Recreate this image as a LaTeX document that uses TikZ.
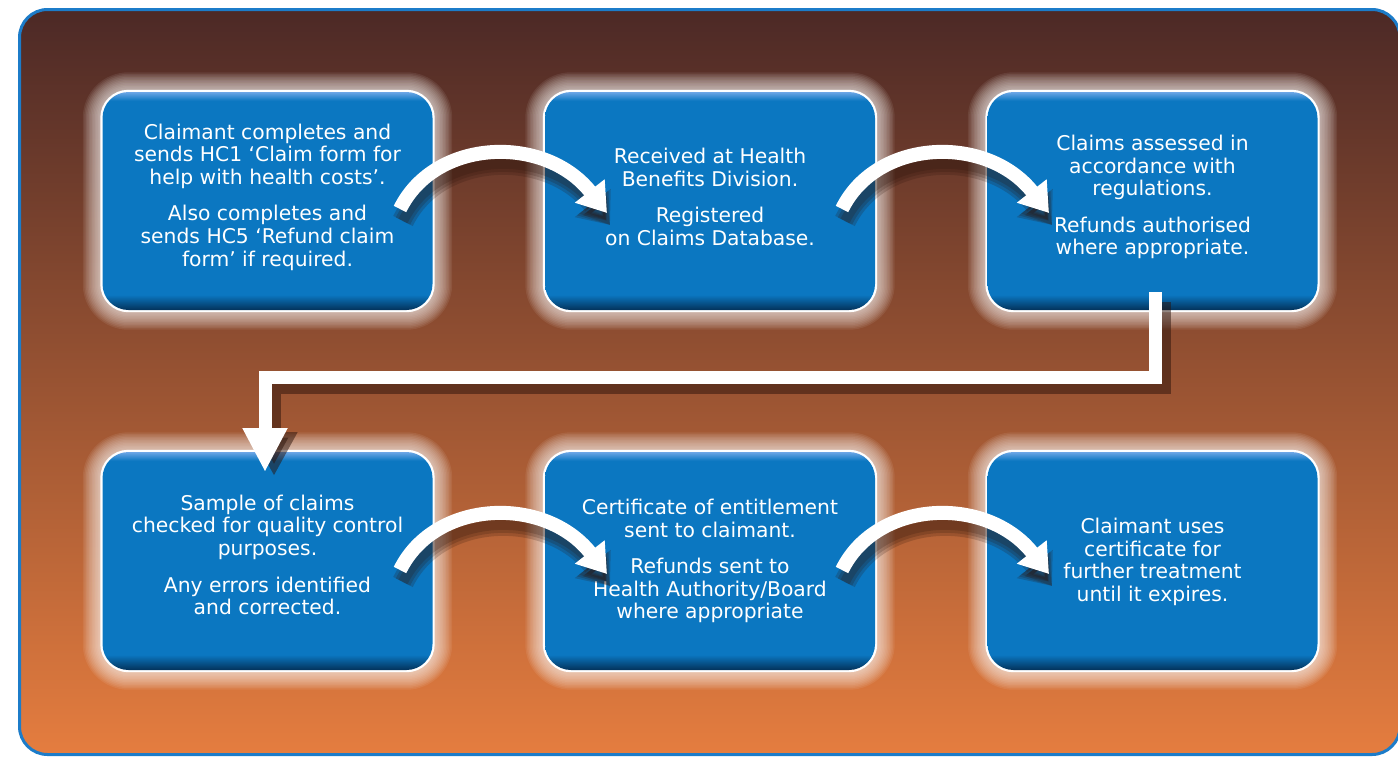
\documentclass[tikz,border=0pt]{standalone}
\usepackage{fontspec}
\setmainfont{DejaVu Sans}
\usetikzlibrary{arrows.meta,calc}
\definecolor{bgtop}{HTML}{4C2926}
\definecolor{bgmid}{HTML}{AC5E36}
\definecolor{bgbot}{HTML}{E57D3F}
\definecolor{framec}{HTML}{1C7CC9}
\definecolor{bdark}{HTML}{03325A}
\definecolor{bblue}{HTML}{0B77C1}
\definecolor{blight}{HTML}{6DA6E6}
\definecolor{shadowc}{HTML}{2A120A}
\pgfdeclareverticalshading{boxshade}{100bp}{color(0bp)=(bdark); color(25bp)=(bdark); color(28.5bp)=(bblue); color(73bp)=(bblue); color(75bp)=(blight); color(100bp)=(blight)}
\pgfdeclarelayer{bg}
\pgfdeclarelayer{glow}
\pgfsetlayers{bg,glow,main}
\tikzset{
  box/.style={rectangle, rounded corners=26pt, shading=boxshade, minimum width=330pt, minimum height=218pt, inner sep=0pt},
  txt/.style={text=white, align=center, font=\fontsize{20.3}{22.6}\selectfont, inner sep=0pt},
  warrow/.style={white, line width=14pt, -{Triangle[width=36pt,length=28pt]}},
  wshadow/.style={shadowc, opacity=0.2, line width=#1, -{Triangle[width=#1+22pt,length=28pt]}},
  elbow/.style={white, line width=13pt, line join=miter, -{Triangle[width=42pt,length=44pt]}},
  elbowshadow/.style={shadowc, opacity=0.5, line width=14pt, line join=miter, -{Triangle[width=44pt,length=44pt]}},
}
\newcommand{\glowbox}[1]{%
  \foreach \e in {1.5,3,...,19.5}{%
    \fill[white, opacity=0.075, rounded corners=26pt+\e pt] ($(#1.north west)+(-\e,-\e)$) rectangle ($(#1.south east)+(\e,\e)$);
  }
  \draw[white, line width=4pt, rounded corners=26pt] (#1.north west) rectangle (#1.south east);
}
\begin{document}
\begin{tikzpicture}[x=1pt,y=-1pt]
\useasboundingbox (0,0) rectangle (1398,756);
% boxes
\node[box] (b1) at (267.5,201) {};
\node[box] (b2) at (710,201) {};
\node[box] (b3) at (1152.5,201) {};
\node[box] (b4) at (267.5,561) {};
\node[box] (b5) at (710,561) {};
\node[box] (b6) at (1152.5,561) {};
\begin{pgfonlayer}{bg}
  \fill[white] (0,0) rectangle (1398,756);
  \shade[top color=bgtop, middle color=bgmid, bottom color=bgbot, rounded corners=28pt] (19.5,9.5) rectangle (1400,754.5);
  \draw[framec, line width=3pt, rounded corners=28pt] (19.5,9.5) rectangle (1400,754.5);
\end{pgfonlayer}
\begin{pgfonlayer}{glow}
  \glowbox{b1}\glowbox{b2}\glowbox{b3}\glowbox{b4}\glowbox{b5}\glowbox{b6}
\end{pgfonlayer}
% texts
\node[txt] (t1) at ($(b1)+(0,-4)$) {Claimant completes and\\sends HC1 `Claim form for\\help with health costs'.\\[14pt]Also completes and\\sends HC5 `Refund claim\\form' if required.};
\node[txt] (t2) at ($(b2)+(0,-4)$) {Received at Health\\Benefits Division.\\[14pt]Registered\\on Claims Database.};
\node[txt] (t3) at ($(b3)+(0,-4)$) {Claims assessed in\\accordance with\\regulations.\\[14pt]Refunds authorised\\where appropriate.};
\node[txt] (t4) at ($(b4)+(0,-6)$) {Sample of claims\\checked for quality control\\purposes.\\[14pt]Any errors identified\\and corrected.};
\node[txt] (t5) at ($(b5)+(0,0)$) {Certificate of entitlement\\sent to claimant.\\[14pt]Refunds sent to\\Health Authority/Board\\where appropriate};
\node[txt] (t6) at ($(b6)+(0,1)$) {Claimant uses\\certificate for\\further treatment\\until it expires.};
% curved arrows
\foreach \n/\dx/\dy in {1/0/0, 2/442/0, 3/0/361, 4/442/361}{
  \coordinate (s\n) at (400+\dx,209+\dy);
  \coordinate (e\n) at (607+\dx,213+\dy);
  \coordinate (c\n) at (435+\dx,138+\dy);
  \coordinate (d\n) at (545+\dx,134+\dy);
  \foreach \w in {22pt,16pt,10pt}{
    \draw[wshadow=\w] ($(s\n)+(3,12)$) .. controls ($(c\n)+(3,12)$) and ($(d\n)+(3,12)$) .. ($(e\n)+(3,12)$);
  }
  \draw[warrow] (s\n) .. controls (c\n) and (d\n) .. (e\n);
}
% elbow arrow
\coordinate (k0) at (1155,292);
\coordinate (k1) at (265,377);
\coordinate (k2) at (265,472);
\draw[elbowshadow] ($(k0)+(9,10)$) |- ($(k1)+(9,10)$) -- ($(k2)+(9,4)$);
\draw[elbow] (k0) |- (k1) -- (k2);
\end{tikzpicture}
\end{document}
